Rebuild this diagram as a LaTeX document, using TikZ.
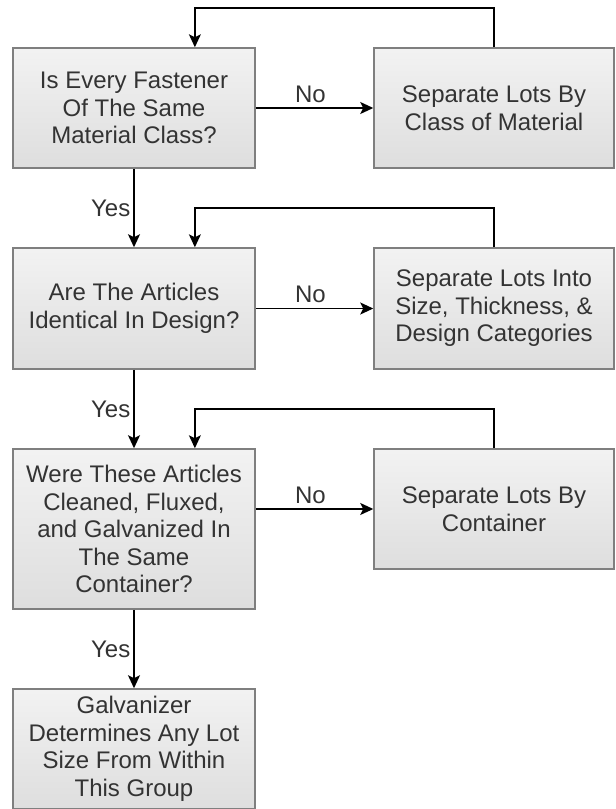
\documentclass[tikz,border=0pt]{standalone}
\usepackage{fontspec}
\setmainfont{Liberation Sans}
\usetikzlibrary{arrows.meta,calc}
\definecolor{txt}{HTML}{333333}
\definecolor{edge}{HTML}{7F7F7F}
\begin{document}
\begin{tikzpicture}[x=1pt,y=-1pt,
  box/.style={draw=edge, line width=1.5pt, top color=black!5, bottom color=black!13,
    minimum width=242pt, align=center, text=txt, inner sep=0pt,
    font=\fontsize{24}{27.5}\selectfont},
  arr/.style={draw=black, line width=1.5pt, -{Stealth[length=13pt,width=12pt,inset=3pt]}},
  lbl/.style={text=txt, font=\fontsize{24}{27}\selectfont, inner sep=2pt}]
  \useasboundingbox (0,0) rectangle (616,809);

  % decision column
  \node[box, minimum height=120pt] (b1) at (134,108) {Is Every Fastener\\Of The Same\\Material Class?};
  \node[box, minimum height=121pt] (b2) at (134,308.5) {Are The Articles\\Identical In Design?};
  \node[box, minimum height=160pt] (b3) at (134,529) {Were These Articles\\Cleaned, Fluxed,\\and Galvanized In\\The Same\\Container?};
  \node[box, minimum height=120pt] (b4) at (134,749) {Galvanizer\\Determines Any Lot\\Size From Within\\This Group};

  % corrective actions
  \node[box, minimum width=240pt, minimum height=120pt] (r1) at (494,108) {Separate Lots By\\Class of Material};
  \node[box, minimum width=240pt, minimum height=121pt] (r2) at (494,308.5) {Separate Lots Into\\Size, Thickness, \&\\Design Categories};
  \node[box, minimum width=240pt, minimum height=120pt] (r3) at (494,509) {Separate Lots By\\Container};

  % "No" branches
  \draw[arr] (b1.east) -- node[lbl, above=3pt, xshift=-4pt] {No} (r1.west);
  \draw[arr] (b2.east) -- node[lbl, above=3pt, xshift=-4pt] {No} (r2.west);
  \draw[arr] (b3.east |- r3.west) -- node[lbl, above=3pt, xshift=-4pt] {No} (r3.west);

  % "Yes" branches
  \draw[arr] (b1.south) -- node[lbl, left=1pt] {Yes} (b2.north);
  \draw[arr] (b2.south) -- node[lbl, left=1pt] {Yes} (b3.north);
  \draw[arr] (b3.south) -- node[lbl, left=1pt] {Yes} (b4.north);

  % return loops
  \coordinate (y1) at (0,8);
  \coordinate (y2) at (0,208);
  \coordinate (y3) at (0,409);
  \coordinate (in1) at ($(b1.north west)!0.75!(b1.north east)$);
  \coordinate (in2) at ($(b2.north west)!0.75!(b2.north east)$);
  \coordinate (in3) at ($(b3.north west)!0.75!(b3.north east)$);
  \draw[arr] (r1.north) -- (r1.north |- y1) -| (in1);
  \draw[arr] (r2.north) -- (r2.north |- y2) -| (in2);
  \draw[arr] (r3.north) -- (r3.north |- y3) -| (in3);
\end{tikzpicture}
\end{document}
